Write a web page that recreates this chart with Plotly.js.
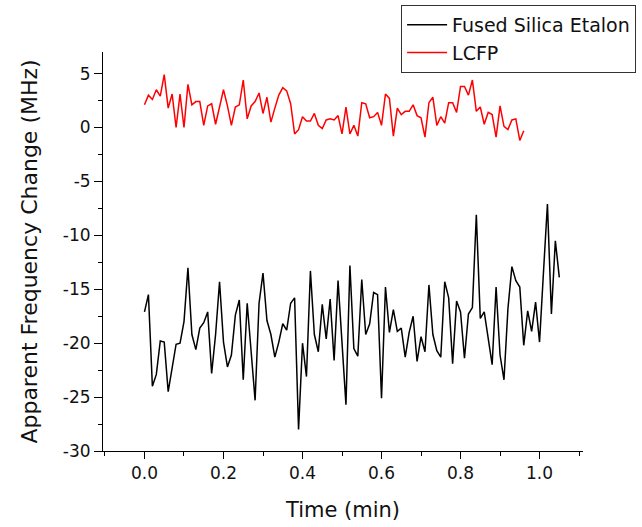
<!DOCTYPE html>
<html>
<head>
<meta charset="utf-8">
<script src="https://cdn.plot.ly/plotly-3.0.1.min.js"></script>
<style>html,body{margin:0;padding:0;background:#fff;}#chart{width:642px;height:527px;}</style>
</head>
<body>
<div id="chart"></div>
<script>
// Fused Silica Etalon: time (min) and apparent frequency change (MHz)
var etalonTime = [0.00,0.01,0.02,0.03,0.04,0.05,0.06,0.07,0.08,0.09,0.10,0.11,0.12,0.13,0.14,0.15,0.16,0.17,0.18,0.19,
  0.20,0.21,0.22,0.23,0.24,0.25,0.26,0.27,0.28,0.29,0.30,0.31,0.32,0.33,0.34,0.35,0.36,0.37,0.38,0.39,
  0.40,0.41,0.42,0.43,0.44,0.45,0.46,0.47,0.48,0.49,0.50,0.51,0.52,0.53,0.54,0.55,0.56,0.57,0.58,0.59,
  0.60,0.61,0.62,0.63,0.64,0.65,0.66,0.67,0.68,0.69,0.70,0.71,0.72,0.73,0.74,0.75,0.76,0.77,0.78,0.79,
  0.80,0.81,0.82,0.83,0.84,0.85,0.86,0.87,0.88,0.89,0.90,0.91,0.92,0.93,0.94,0.95,0.96,0.97,0.98,0.99,
  1.00,1.01,1.02,1.03,1.04,1.05];
var etalonValues = [-17.1,-15.5,-24.0,-22.9,-19.8,-19.9,-24.5,-22.3,-20.1,-20.0,-18.0,-13.0,-19.2,-20.6,-18.6,-18.1,-17.1,-22.8,-19.2,-14.3,
  -19.9,-22.2,-21.1,-17.4,-16.0,-23.4,-16.3,-20.8,-25.3,-16.3,-13.5,-17.9,-19.2,-21.3,-19.9,-18.2,-18.8,-16.3,-15.8,-28.0,
  -20.0,-23.1,-13.3,-19.2,-20.8,-16.4,-19.6,-15.9,-21.6,-14.2,-19.9,-25.7,-12.8,-20.5,-21.2,-14.1,-19.2,-18.2,-15.3,-15.5,
  -25.1,-14.8,-19.0,-16.9,-18.9,-18.6,-21.3,-19.0,-17.5,-21.7,-19.4,-20.8,-14.6,-19.2,-20.7,-21.3,-14.3,-15.8,-21.9,-16.1,
  -17.1,-21.4,-17.3,-16.7,-8.1,-17.7,-17.1,-19.5,-22.0,-14.8,-21.1,-23.4,-16.8,-12.9,-14.2,-14.8,-20.2,-17.0,-18.9,-16.2,
  -19.9,-13.4,-7.1,-17.3,-10.5,-13.9];

// LCFP: time (min) and apparent frequency change (MHz)
var lcfpTime = [0.00,0.01,0.02,0.03,0.04,0.05,0.06,0.07,0.08,0.09,0.10,0.11,0.12,0.13,0.14,0.15,0.16,0.17,0.18,0.19,
  0.20,0.21,0.22,0.23,0.24,0.25,0.26,0.27,0.28,0.29,0.30,0.31,0.32,0.33,0.34,0.35,0.36,0.37,0.38,0.39,
  0.40,0.41,0.42,0.43,0.44,0.45,0.46,0.47,0.48,0.49,0.50,0.51,0.52,0.53,0.54,0.55,0.56,0.57,0.58,0.59,
  0.60,0.61,0.62,0.63,0.64,0.65,0.66,0.67,0.68,0.69,0.70,0.71,0.72,0.73,0.74,0.75,0.76,0.77,0.78,0.79,
  0.80,0.81,0.82,0.83,0.84,0.85,0.86,0.87,0.88,0.89,0.90,0.91,0.92,0.93,0.94,0.95,0.96];
var lcfpValues = [2.1,3.0,2.6,3.5,2.9,4.9,1.8,3.1,0.0,3.1,0.0,4.0,2.1,2.4,2.4,0.2,2.0,2.2,0.3,1.9,
  3.5,2.0,0.2,1.9,2.1,4.4,0.8,2.0,2.4,3.2,1.3,2.8,0.5,1.8,3.0,3.7,3.4,2.2,-0.6,-0.2,
  1.0,0.6,0.6,1.3,0.2,-0.1,0.7,0.8,0.7,1.1,-0.6,1.9,-0.6,0.2,-0.8,2.3,2.2,0.9,1.0,1.4,
  0.2,3.1,2.7,-0.8,1.8,1.2,1.5,1.5,2.1,1.1,0.9,-0.9,2.3,2.8,0.2,1.0,0.4,2.3,2.3,1.4,
  3.8,3.8,3.0,4.4,1.5,1.9,0.3,1.4,1.2,-0.9,2.0,0.1,-0.2,0.7,0.8,-1.2,-0.3];

var seriesNames = ["Fused Silica Etalon", "LCFP"];
var xTickVals = [0.0, 0.2, 0.4, 0.6, 0.8, 1.0];
var xTickText = ["0.0", "0.2", "0.4", "0.6", "0.8", "1.0"];
var yTickVals = [-30, -25, -20, -15, -10, -5, 0, 5];
var yTickText = ["-30", "-25", "-20", "-15", "-10", "-5", "0", "5"];

var font = "DejaVu Sans, Liberation Sans, Arial, sans-serif";
var textColor = "#111111";

var traces = [
  {x: etalonTime, y: etalonValues, type: "scatter", mode: "lines", name: seriesNames[0],
   line: {color: "#000000", width: 1.5}},
  {x: lcfpTime, y: lcfpValues, type: "scatter", mode: "lines", name: seriesNames[1],
   line: {color: "#ff0000", width: 1.5}}
];

var layout = {
  width: 642, height: 527,
  paper_bgcolor: "#ffffff", plot_bgcolor: "#ffffff",
  margin: {l: 103, r: 59, t: 52, b: 76, autoexpand: false},
  font: {family: font, color: textColor, size: 17},
  showlegend: true,
  legend: {x: 0.621, y: 1.118, xanchor: "left", yanchor: "top", itemwidth: 40,
    bgcolor: "#ffffff", bordercolor: "#333333", borderwidth: 1,
    font: {family: font, size: 19, color: textColor}, tracegroupgap: 0},
  xaxis: {
    range: [-0.105, 1.11], tickmode: "array", tickvals: xTickVals, ticktext: xTickText,
    ticks: "outside", ticklen: 7, tickwidth: 1, tickcolor: "#000",
    minor: {dtick: 0.1, tick0: 0, ticks: "outside", ticklen: 4, tickcolor: "#000", tickwidth: 1},
    showline: true, linecolor: "#000", linewidth: 1, showgrid: false, zeroline: false,
    tickfont: {family: font, size: 17, color: textColor},
    title: {text: "Time (min)", font: {family: font, size: 21, color: textColor}, standoff: 19}
  },
  yaxis: {
    range: [-30, 7], tickmode: "array", tickvals: yTickVals, ticktext: yTickText,
    ticks: "outside", ticklen: 8, tickwidth: 1, tickcolor: "#000",
    minor: {dtick: 2.5, tick0: 0, ticks: "outside", ticklen: 4, tickcolor: "#000", tickwidth: 1},
    showline: true, linecolor: "#000", linewidth: 1, showgrid: false, zeroline: false,
    tickfont: {family: font, size: 17, color: textColor},
    title: {text: "Apparent Frequency Change (MHz)", font: {family: font, size: 22, color: textColor}, standoff: 19}
  }
};

Plotly.newPlot("chart", traces, layout, {displayModeBar: false, staticPlot: true});
</script>
</body>
</html>
